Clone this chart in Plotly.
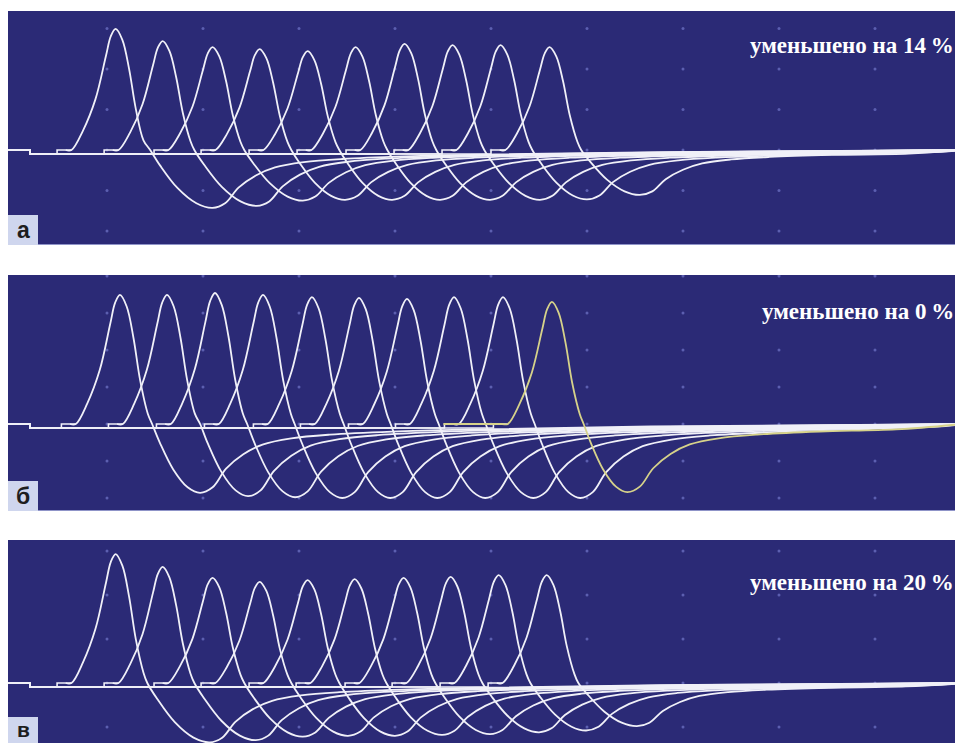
import plotly.graph_objects as go

# ---------------- data (in screen divisions) ----------------
PANEL_LETTERS = ["а", "б", "в"]
PANEL_TEXTS = ["уменьшено на 14\u2009%", "уменьшено на 0\u2009%", "уменьшено на 20\u2009%"]

# panel а  (reduced by 14 %)
A_PEAK_T = [1.09, 1.58, 2.10, 2.59, 3.09, 3.59, 4.10, 4.60, 5.10, 5.61]
A_PEAK_V = [2.99, 2.69, 2.54, 2.49, 2.44, 2.54, 2.62, 2.59, 2.59, 2.54]
A_TROUGH_T = [2.10, 2.56, 3.04, 3.48, 3.97, 4.47, 4.99, 5.51, 6.00, 6.55]
A_TROUGH_V = [-1.43, -1.38, -1.25, -1.23, -1.23, -1.23, -1.23, -1.23, -1.22, -1.11]

# panel б  (reduced by 0 %)
B_PEAK_T = [1.135, 1.625, 2.125, 2.625, 3.135, 3.625, 4.125, 4.615, 5.125, 5.635]
B_PEAK_V = [3.49, 3.49, 3.54, 3.49, 3.43, 3.41, 3.38, 3.43, 3.43, 3.30]
B_TROUGH_T = [1.97, 2.47, 2.96, 3.45, 3.95, 4.44, 4.94, 5.44, 5.93, 6.42]
B_TROUGH_V = [-1.86, -1.95, -1.98, -2.00, -2.00, -2.00, -2.00, -2.00, -2.00, -1.84]

# panel в  (reduced by 20 %)
C_PEAK_T = [1.09, 1.58, 2.10, 2.59, 3.09, 3.58, 4.09, 4.58, 5.08, 5.58]
C_PEAK_V = [2.93, 2.64, 2.39, 2.30, 2.34, 2.36, 2.39, 2.41, 2.45, 2.45]
C_TROUGH_T = [2.07, 2.55, 3.04, 3.51, 4.00, 4.49, 4.99, 5.50, 5.99, 6.52]
C_TROUGH_V = [-1.35, -1.30, -1.22, -1.20, -1.20, -1.18, -1.16, -1.12, -1.08, -0.98]

# pulse shape (offsets in divisions, values as fractions)
RISE_DT = [-0.52, -0.46, -0.34, -0.21, -0.10, -0.05, 0.0]
RISE_F = [0.0, 0.0, 0.16, 0.42, 0.78, 0.94, 1.0]
FALL_DT = [0.07, 0.14, 0.21, 0.29]
FALL_F = [0.91, 0.67, 0.34, 0.08]
CROSS_DT = 0.33                 # earliest baseline crossing after the peak
LOBE_START = 0.50               # crossing-to-trough distance (before width scaling)
PRE_DT = [-0.42, -0.28, -0.13, 0.0]
PRE_F = [0.27, 0.66, 0.92, 1.0]
POST_DT = [0.13, 0.27, 0.45, 0.65, 0.95, 1.35, 2.00, 2.80, 4.70]
POST_F = [0.92, 0.65, 0.44, 0.30, 0.21, 0.155, 0.11, 0.08, 0.035]

GRID_T = [1, 2, 3, 4, 5, 6, 7, 8, 9]
A_GRID_V = [3, 2, 1, 0, -1, -2]
B_GRID_V = [4, 3, 2, 1, 0, -1, -2]
C_GRID_V = [3, 2, 1, 0, -1]

# ---------------- layout helpers ----------------
OFF = 8                     # page margin of the html body
PAGE_W, PAGE_H = 963, 743
W, H = PAGE_W - OFF, PAGE_H - OFF
X_RANGE = [(OFF - 11) / 96, (PAGE_W - 11) / 96]


def px(p):
    return max(0.0, (p - OFF) / W)


def pv(p):
    return min(1.0, max(0.0, 1 - (p - OFF) / H))


# panel geometry in page pixels, lobe width factor
PANELS = [
    dict(top=11, bot=245, base=150, div=40.5, wide=1.3,
         peaks=(A_PEAK_T, A_PEAK_V, A_TROUGH_T, A_TROUGH_V), grid=A_GRID_V),
    dict(top=275, bot=511, base=424, div=37.0, wide=1.0,
         peaks=(B_PEAK_T, B_PEAK_V, B_TROUGH_T, B_TROUGH_V), grid=B_GRID_V),
    dict(top=540, bot=743, base=683, div=44.0, wide=1.3,
         peaks=(C_PEAK_T, C_PEAK_V, C_TROUGH_T, C_TROUGH_V), grid=C_GRID_V),
]

BG = "#2b2a76"
LINE = "#f0f0f8"
YELLOW = "#d6d28a"
DOT = "#5c5fb0"

fig = go.Figure()


def body(pt, pvv, tt, tv, wide, pre=None):
    xs, ys = [], []
    if pre is not None:
        xs.append(pt + pre)
        ys.append(0.0)
    for d, f in zip(RISE_DT, RISE_F):
        xs.append(pt + d); ys.append(pvv * f)
    c = max(pt + CROSS_DT, tt - LOBE_START * wide)
    for d, f in zip(FALL_DT, FALL_F):
        if pt + d < c - 0.03:
            xs.append(pt + d); ys.append(pvv * f)
    xs.append(c); ys.append(0.0)
    scale = min(wide, (tt - c) / LOBE_START)
    for d, f in zip(PRE_DT, PRE_F):
        x = tt + d * scale
        if x > c + 0.02:
            xs.append(x); ys.append(tv * f)
    for d, f in zip(POST_DT, POST_F):
        if tt + d < X_RANGE[1] - 0.2:
            xs.append(tt + d); ys.append(tv * f)
    xs.append(X_RANGE[1]); ys.append(0.0)
    return xs, ys


for i, P in enumerate(PANELS):
    ax = "" if i == 0 else str(i + 1)
    xa, ya = "x" + ax, "y" + ax
    low = -4.0 / P["div"]
    # grid dots
    gx, gy = [], []
    for v in P["grid"]:
        for t in GRID_T:
            gx.append(t); gy.append(v)
    fig.add_trace(go.Scatter(x=gx, y=gy, mode="markers", xaxis=xa, yaxis=ya,
                             marker=dict(size=3, color=DOT), hoverinfo="skip", showlegend=False))
    pts, pvs, tts, tvs = P["peaks"]
    n = len(pts)
    # baseline segments (waiting traces)
    for k in range(n):
        rs = pts[k] + RISE_DT[1]
        bx = [X_RANGE[0], 0.20, 0.20, rs - 0.15, rs - 0.15, rs]
        by = [0, 0, low, low, 0, 0]
        fig.add_trace(go.Scatter(x=bx, y=by, mode="lines", xaxis=xa, yaxis=ya,
                                 line=dict(color=LINE, width=1.6), hoverinfo="skip", showlegend=False))
    for k in range(n):
        if i == 1 and k == n - 1:
            continue
        xs, ys = body(pts[k], pvs[k], tts[k], tvs[k], P["wide"])
        fig.add_trace(go.Scatter(x=xs, y=ys, mode="lines", xaxis=xa, yaxis=ya,
                                 line=dict(color=LINE, width=1.8, shape="spline", smoothing=1.0),
                                 hoverinfo="skip", showlegend=False))
    if i == 1:
        k = n - 1
        xs, ys = body(pts[k], pvs[k], tts[k], tvs[k], P["wide"], pre=-1.13)
        fig.add_trace(go.Scatter(x=xs, y=ys, mode="lines", xaxis=xa, yaxis=ya,
                                 line=dict(color=YELLOW, width=1.8, shape="spline", smoothing=1.0),
                                 hoverinfo="skip", showlegend=False))

    top_v = (P["base"] - P["top"]) / P["div"]
    bot_v = (P["base"] - P["bot"]) / P["div"]
    axis_common = dict(showgrid=False, zeroline=False, showticklabels=False, ticks="",
                       showline=False, fixedrange=True)
    fig.layout["xaxis" + ax] = dict(domain=[0, 1], range=X_RANGE, anchor=ya, **axis_common)
    fig.layout["yaxis" + ax] = dict(domain=[pv(P["bot"]), pv(P["top"])], range=[bot_v, top_v],
                                    anchor=xa, **axis_common)

shapes = []
annotations = []
box_px = [(215, 245), (481, 511), (717, 743)]
text_y = [45, 312, 582]
letter_y = [230, 496, 729]
letter_size = [23, 23, 21]
for i, P in enumerate(PANELS):
    if i < 2:
        yb = pv(P["bot"]) + 0.5 / H
        shapes.append(dict(type="line", xref="paper", yref="paper", x0=0, x1=1, y0=yb, y1=yb,
                           line=dict(color="#8f94c8", width=1)))
    b0, b1 = box_px[i]
    shapes.append(dict(type="rect", xref="paper", yref="paper", x0=0, x1=px(38),
                       y0=pv(b1), y1=pv(b0), fillcolor="#cfd6ee", line=dict(width=0)))
    annotations.append(dict(xref="paper", yref="paper", x=px(23), y=pv(letter_y[i]),
                            text=PANEL_LETTERS[i], showarrow=False, xanchor="center", yanchor="middle",
                            font=dict(family="Liberation Sans", size=letter_size[i], color="#1e1e1e",
                                      weight="bold")))
    annotations.append(dict(xref="paper", yref="paper", x=px(956), y=pv(text_y[i]),
                            text=PANEL_TEXTS[i], showarrow=False, xanchor="right", yanchor="middle",
                            font=dict(family="Liberation Serif", size=23, color="white", weight="bold")))

fig.update_layout(width=W, height=H, margin=dict(l=0, r=0, t=0, b=0),
                  paper_bgcolor="white", plot_bgcolor=BG, showlegend=False,
                  shapes=shapes, annotations=annotations)

fig.write_html("out.html")
